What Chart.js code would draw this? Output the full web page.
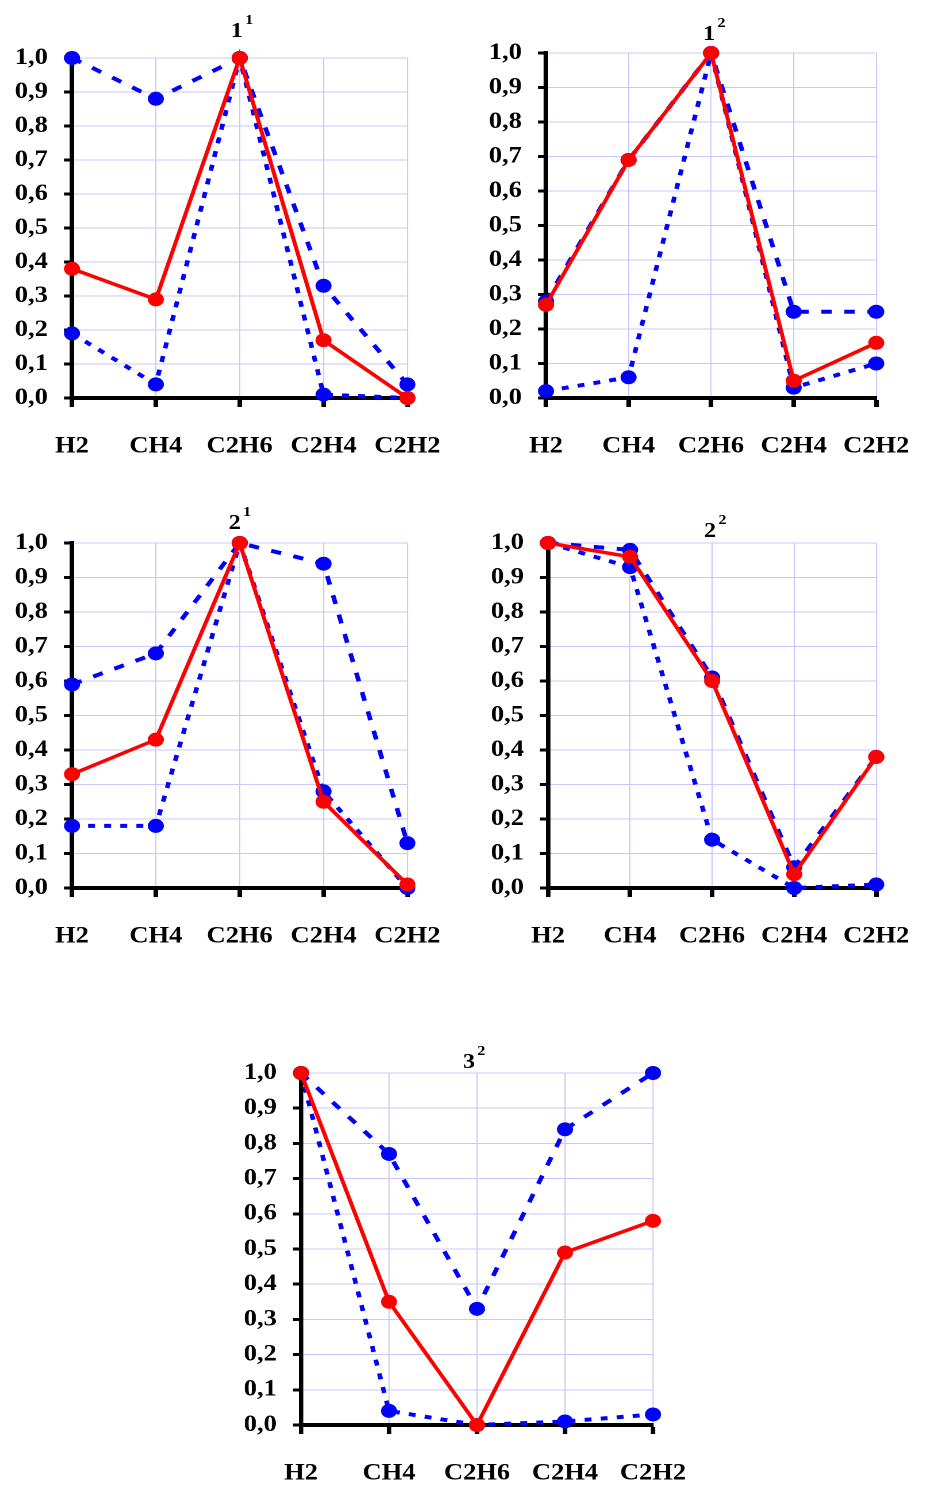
<!DOCTYPE html>
<html>
<head>
<meta charset="utf-8">
<script src="https://cdn.jsdelivr.net/npm/chart.js@4.4.0/dist/chart.umd.min.js"></script>
<style>
  body { margin: 0; background: #fff; width: 939px; height: 1485px; position: relative; overflow: hidden; }
  .panel { position: absolute; transform-origin: 0 0; }
</style>
</head>
<body>
<div class="panel" id="p11"><canvas id="g11"></canvas></div>
<div class="panel" id="p12"><canvas id="g12"></canvas></div>
<div class="panel" id="p21"><canvas id="g21"></canvas></div>
<div class="panel" id="p22"><canvas id="g22"></canvas></div>
<div class="panel" id="p32"><canvas id="g32"></canvas></div>
<script>
const categorias = ['H2', 'CH4', 'C2H6', 'C2H4', 'C2H2'];

// Serie roja (continua) y dos series azules (discontinuas) de cada gráfico
const rojo11 = [0.38, 0.29, 1.0, 0.17, 0.0];
const azulA11 = [1.0, 0.88, 1.0, 0.33, 0.04];
const azulB11 = [0.19, 0.04, 1.0, 0.01, 0.0];

const rojo12 = [0.27, 0.69, 1.0, 0.05, 0.16];
const azulA12 = [0.28, 0.69, 1.0, 0.25, 0.25];
const azulB12 = [0.02, 0.06, 1.0, 0.03, 0.10];

const rojo21 = [0.33, 0.43, 1.0, 0.25, 0.01];
const azulA21 = [0.59, 0.68, 1.0, 0.94, 0.13];
const azulB21 = [0.18, 0.18, 1.0, 0.28, 0.0];

const rojo22 = [1.0, 0.96, 0.60, 0.04, 0.38];
const azulA22 = [1.0, 0.98, 0.61, 0.06, 0.38];
const azulB22 = [1.0, 0.93, 0.14, 0.0, 0.01];

const rojo32 = [1.0, 0.35, 0.0, 0.49, 0.58];
const azulA32 = [1.0, 0.77, 0.33, 0.84, 1.0];
const azulB32 = [1.0, 0.04, 0.0, 0.01, 0.03];

// Títulos: número + superíndice
const titulos = [['1', '1'], ['1', '2'], ['2', '1'], ['2', '2'], ['3', '2']];

// La figura original está estirada en horizontal
const S = 1.15;

// Posición de cada panel en la página y del área de trazado dentro de él (px de página)
const paneles = [
  { id: 'g11', caja: 'p11', x: 0,   y: 0,    w: 470, h: 470, izq: 72, der: 424, arr: 58, abj: 398, tdx: -3, tdy: 21, series: [rojo11, azulA11, azulB11] },
  { id: 'g12', caja: 'p12', x: 470, y: 0,    w: 469, h: 470, izq: 76, der: 428, arr: 53, abj: 398, tdx: -2, tdy: 13, series: [rojo12, azulA12, azulB12] },
  { id: 'g21', caja: 'p21', x: 0,   y: 490,  w: 470, h: 470, izq: 72, der: 423, arr: 53, abj: 398, tdx: -5, tdy: 14, series: [rojo21, azulA21, azulB21] },
  { id: 'g22', caja: 'p22', x: 470, y: 490,  w: 469, h: 470, izq: 78, der: 430, arr: 53, abj: 398, tdx: -2, tdy: 6,  series: [rojo22, azulA22, azulB22] },
  { id: 'g32', caja: 'p32', x: 220, y: 1030, w: 500, h: 455, izq: 81, der: 433, arr: 43, abj: 395, tdx: -8, tdy: 5,  series: [rojo32, azulA32, azulB32] }
];

const fuente = '"Liberation Serif", "Times New Roman", serif';

// Plugin para dibujar el título con superíndice
const pluginTitulo = {
  id: 'tituloSup',
  afterDraw(chart, args, opts) {
    const { ctx, chartArea } = chart;
    const x = (chartArea.left + chartArea.right) / 2 + opts.dx;
    const y = chartArea.top - opts.dy;
    ctx.save();
    ctx.fillStyle = '#000';
    ctx.textBaseline = 'alphabetic';
    ctx.font = 'bold 21px ' + fuente;
    ctx.textAlign = 'center';
    ctx.fillText(opts.base, x, y);
    const w = ctx.measureText(opts.base).width;
    ctx.font = 'bold 14px ' + fuente;
    ctx.textAlign = 'left';
    ctx.fillText(opts.sup, x + w / 2 + 2, y - 13);
    ctx.restore();
  }
};

function serieAzul(datos, guion) {
  return {
    data: datos,
    borderColor: '#0000ff',
    backgroundColor: '#0000ff',
    borderWidth: 4,
    borderDash: guion,
    pointRadius: 7,
    pointBorderWidth: 0,
    pointBackgroundColor: '#0000ff',
    tension: 0,
    clip: false
  };
}

paneles.forEach((p, i) => {
  const caja = document.getElementById(p.caja);
  caja.style.left = p.x + 'px';
  caja.style.top = p.y + 'px';
  caja.style.transform = 'scaleX(' + S + ')';

  const canvas = document.getElementById(p.id);
  const anchoLienzo = Math.round(p.w / S);
  canvas.width = anchoLienzo;
  canvas.height = p.h;

  const izq = p.izq / S;
  const der = p.der / S;

  new Chart(canvas.getContext('2d'), {
    type: 'line',
    data: {
      labels: categorias,
      datasets: [
        {
          data: p.series[0],
          borderColor: '#ff0000',
          backgroundColor: '#ff0000',
          borderWidth: 3.5,
          pointRadius: 7,
          pointBorderWidth: 0,
          pointBackgroundColor: '#ff0000',
          tension: 0,
          clip: false
        },
        serieAzul(p.series[1], [9, 11]),
        serieAzul(p.series[2], [6, 8])
      ]
    },
    options: {
      responsive: false,
      animation: false,
      devicePixelRatio: 2,
      layout: {
        padding: { left: 0, top: p.arr, right: anchoLienzo - der, bottom: 0 }
      },
      plugins: {
        legend: { display: false },
        tooltip: { enabled: false },
        tituloSup: { base: titulos[i][0], sup: titulos[i][1], dx: p.tdx / S, dy: p.tdy }
      },
      scales: {
        x: {
          type: 'category',
          offset: false,
          afterFit: (escala) => { escala.height = p.h - p.abj; },
          grid: { color: '#c8c8ff', lineWidth: 1, tickColor: '#000', tickWidth: 4, tickLength: 9, drawOnChartArea: true },
          border: { color: '#000', width: 4 },
          ticks: {
            autoSkip: false,
            maxRotation: 0,
            padding: 26,
            color: '#000',
            font: { family: fuente, size: 23, weight: 'bold' }
          }
        },
        y: {
          min: 0,
          max: 1,
          afterFit: (escala) => { escala.width = izq; },
          grid: { color: '#c8c8ff', lineWidth: 1, tickColor: '#000', tickWidth: 3, tickLength: 7 },
          border: { color: '#000', width: 4 },
          ticks: {
            stepSize: 0.1,
            padding: 14,
            color: '#000',
            font: { family: fuente, size: 23, weight: 'bold' },
            callback: (v) => v.toFixed(1).replace('.', ',')
          }
        }
      }
    },
    plugins: [pluginTitulo]
  });
});
</script>
</body>
</html>
